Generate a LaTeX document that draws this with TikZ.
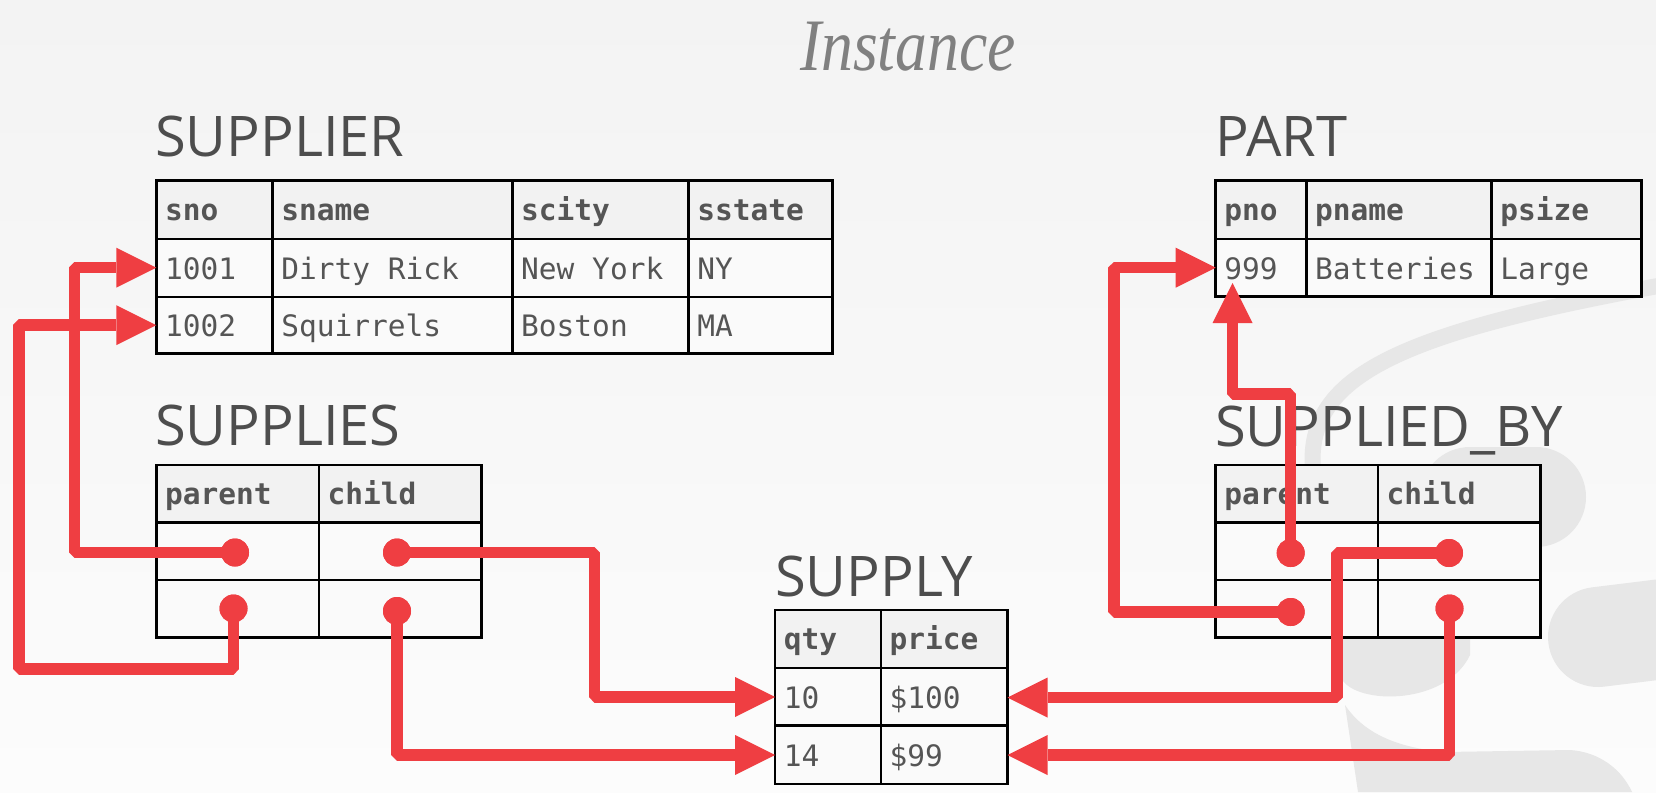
\documentclass[tikz,border=0pt]{standalone}
\usepackage{fontspec}
\usetikzlibrary{arrows.meta}
\newfontfamily\monofont{DejaVu Sans Mono}
\newfontfamily\labfont{Open Sans}
\newfontfamily\titfont{Liberation Serif}[FakeStretch=0.86]
\newcommand\cellfont{\monofont\fontsize{29.5}{30}\selectfont}
\newcommand\hdrfont{\monofont\bfseries\fontsize{29.5}{30}\selectfont}
\newcommand\labelfont{\labfont\fontsize{56}{60}\selectfont}
\newcommand\titlefont{\titfont\itshape\fontsize{74}{80}\selectfont}
\definecolor{lnk}{RGB}{239,62,66}
\definecolor{txt}{HTML}{555555}
\definecolor{lbl}{HTML}{4D4D4D}
\definecolor{ttl}{HTML}{808080}
\definecolor{hdrfill}{HTML}{F2F2F2}
\definecolor{cellbg}{HTML}{FAFAFA}
\definecolor{bgtop}{HTML}{F3F3F3}
\definecolor{bgbot}{HTML}{FCFCFC}
\definecolor{wm}{HTML}{E7E7E7}
\tikzset{
  gridline/.style={draw=black, line width=2.5pt},
  htext/.style={anchor=base west, inner sep=0pt, font=\hdrfont, text=txt},
  ctext/.style={anchor=base west, inner sep=0pt, font=\cellfont, text=txt},
  tlabel/.style={anchor=base west, inner sep=0pt, font=\labelfont, text=lbl},
  link/.style={draw=lnk, line width=11.5pt, line join=bevel,
    -{Triangle[length=40pt,width=40pt,line width=0pt]}},
  dot/.style={circle, fill=lnk, draw=none, inner sep=0pt, minimum size=28pt},
  wmstroke/.style={draw=wm, line cap=round},
}
\begin{document}
\begin{tikzpicture}[x=1pt,y=-1pt]
\useasboundingbox (0,0) rectangle (1656,792);
\clip (0,0) rectangle (1656,792);
% background
\fill[top color=bgtop,bottom color=bgbot] (0,0) rectangle (1656,792);
% watermark
\draw[wmstroke, line width=16pt] (1313,470) .. controls (1305,375) and (1400,332) .. (1680,282);
\fill[wm] (1305,470) -- (1340,520) -- (1340,675) .. controls (1348,705) and (1445,708) .. (1470,655) -- (1470,520) -- cycle;
\draw[wmstroke, line width=100pt] (1470,497) -- (1536,497);
\draw[wmstroke, line width=100pt] (1598,637) -- (1720,622);
\fill[wm] (1345,705) .. controls (1365,735) and (1400,748) .. (1445,752) -- (1570,750) .. controls (1600,752) and (1622,770) .. (1632,792) -- (1358,792) -- cycle;

% title
\node[anchor=base, inner sep=0pt, font=\titlefont, text=ttl] (title) at (908,70.7) {Instance};

% ---------- SUPPLIER ----------
\node[tlabel] (lsupplier) at (155,156.7) {SUPPLIER};
\fill[hdrfill] (156.3,180.5) rectangle (832.5,238.8);
\fill[cellbg] (156.3,238.8) rectangle (832.5,353.5);
\draw[gridline] (156.3,180.5) rectangle (832.5,353.5);
\foreach \y in {238.8,296.8} \draw[gridline] (156.3,\y) -- (832.5,\y);
\foreach \x in {272.6,512.5,688.7} \draw[gridline] (\x,180.5) -- (\x,353.5);
\node[htext] (sh1) at (164.8,220) {sno};
\node[htext] (sh2) at (281.1,220) {sname};
\node[htext] (sh3) at (521,220) {scity};
\node[htext] (sh4) at (697.2,220) {sstate};
\node[ctext] (sa1) at (164.8,279.3) {1001};
\node[ctext] (sa2) at (281.1,279.3) {Dirty Rick};
\node[ctext] (sa3) at (521,279.3) {New York};
\node[ctext] (sa4) at (697.2,279.3) {NY};
\node[ctext] (sb1) at (164.8,336.7) {1002};
\node[ctext] (sb2) at (281.1,336.7) {Squirrels};
\node[ctext] (sb3) at (521,336.7) {Boston};
\node[ctext] (sb4) at (697.2,336.7) {MA};

% ---------- PART ----------
\node[tlabel] (lpart) at (1215,156.7) {PART};
\fill[hdrfill] (1215.7,180.7) rectangle (1641.3,239);
\fill[cellbg] (1215.7,239) rectangle (1641.3,296.3);
\draw[gridline] (1215.7,180.7) rectangle (1641.3,296.3);
\draw[gridline] (1215.7,239) -- (1641.3,239);
\foreach \x in {1306.3,1491.7} \draw[gridline] (\x,180.7) -- (\x,296.3);
\node[htext] (ph1) at (1224.2,220) {pno};
\node[htext] (ph2) at (1314.8,220) {pname};
\node[htext] (ph3) at (1500.2,220) {psize};
\node[ctext] (pa1) at (1224.2,279.3) {999};
\node[ctext] (pa2) at (1314.8,279.3) {Batteries};
\node[ctext] (pa3) at (1500.2,279.3) {Large};

% ---------- SUPPLIES ----------
\node[tlabel] (lsupplies) at (155,445) {SUPPLIES};
\fill[hdrfill] (156.5,465) rectangle (481.5,522.5);
\fill[cellbg] (156.5,522.5) rectangle (481.5,637.5);
\draw[gridline] (156.5,465) rectangle (481.5,637.5);
\foreach \y in {522.5,580} \draw[gridline] (156.5,\y) -- (481.5,\y);
\draw[gridline] (319,465) -- (319,637.5);
\node[htext] (uh1) at (165,504) {parent};
\node[htext] (uh2) at (327.5,504) {child};

% ---------- SUPPLIED_BY ----------
\node[tlabel] (lsuppliedby) at (1215,446.3) {SUPPLIED\_BY};
\fill[hdrfill] (1215.7,465) rectangle (1540.7,522.5);
\fill[cellbg] (1215.7,522.5) rectangle (1540.7,637.5);
\draw[gridline] (1215.7,465) rectangle (1540.7,637.5);
\foreach \y in {522.5,580} \draw[gridline] (1215.7,\y) -- (1540.7,\y);
\draw[gridline] (1378,465) -- (1378,637.5);
\node[htext] (bh1) at (1224.2,504) {parent};
\node[htext] (bh2) at (1386.5,504) {child};

% ---------- SUPPLY ----------
\node[tlabel] (lsupply) at (775,596.7) {SUPPLY};
\fill[hdrfill] (775.2,610) rectangle (1007.5,668);
\fill[cellbg] (775.2,668) rectangle (1007.5,784);
\draw[gridline] (775.2,610) rectangle (1007.5,784);
\foreach \y in {668,725.7} \draw[gridline] (775.2,\y) -- (1007.5,\y);
\draw[gridline] (881,610) -- (881,784);
\node[htext] (yh1) at (783.7,649.5) {qty};
\node[htext] (yh2) at (889.5,649.5) {price};
\node[ctext] (ya1) at (783.7,708.3) {10};
\node[ctext] (ya2) at (889.5,708.3) {\$100};
\node[ctext] (yb1) at (783.7,766.7) {14};
\node[ctext] (yb2) at (889.5,766.7) {\$99};

% ---------- connectors ----------
\node[dot] (p1) at (235,552.5) {};
\node[dot] (p2) at (233.5,608.5) {};
\node[dot] (p3) at (397,552.5) {};
\node[dot] (p4) at (397,611) {};
\node[dot] (q1) at (1290.7,553) {};
\node[dot] (q2) at (1290.7,612) {};
\node[dot] (q3) at (1449,553) {};
\node[dot] (q4) at (1449.5,608.5) {};
\coordinate (t1) at (156.3,267.7);
\coordinate (t2) at (156.3,325.2);
\coordinate (t3) at (775.2,697);
\coordinate (t4) at (775.2,755);
\coordinate (t5) at (1232.5,283);
\coordinate (t6) at (1215.7,267.7);
\coordinate (t7) at (1007.5,697.5);
\coordinate (t8) at (1007.5,755);

\draw[link] (p1.center) -| (74.6,267.7) -- (t1);
\draw[link] (p2.center) |- (19,669) |- (t2);
\draw[link] (p3.center) -| (594.5,697) -- (t3);
\draw[link] (p4.center) |- (t4);
\draw[link] (q1.center) |- (1232.5,394) -- (t5);
\draw[link] (q2.center) -| (1114,267.7) -- (t6);
\draw[link] (q3.center) -| (1337,697.5) -- (t7);
\draw[link] (q4.center) |- (t8);
\foreach \d in {p1,p2,p3,p4,q1,q2,q3,q4} \fill[lnk] (\d) circle (14pt);
\end{tikzpicture}
\end{document}
